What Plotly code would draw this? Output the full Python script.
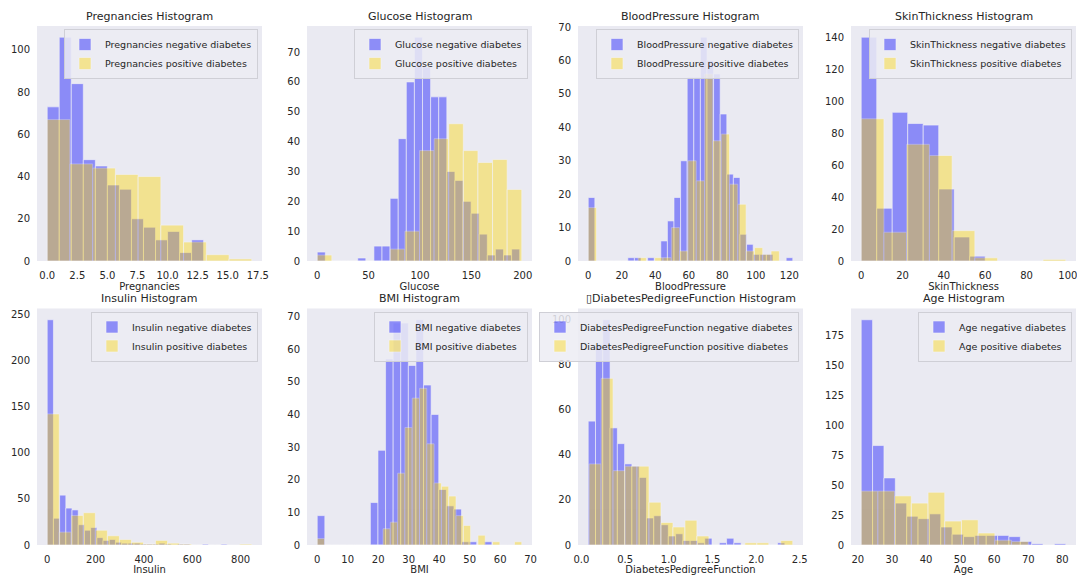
import numpy as np
import plotly.graph_objects as go

features = ["Pregnancies", "Glucose", "BloodPressure", "SkinThickness",
            "Insulin", "BMI", "DiabetesPedigreeFunction", "Age"]
titles = ["Pregnancies Histogram", "Glucose Histogram", "BloodPressure Histogram",
          "SkinThickness Histogram", "Insulin Histogram", "BMI Histogram",
          "\u25afDiabetesPedigreeFunction Histogram", "Age Histogram"]

# (min, max) range of each class and the bar counts
preg_neg_range, preg_pos_range = (0, 13), (0, 17)
preg_neg = [73, 106, 84, 48, 45, 36, 34, 20, 16, 10, 14, 4, 10]
preg_pos = [67, 46, 44, 41, 40, 17, 9, 3, 1]

gluc_neg_range, gluc_pos_range = (0, 197), (0, 199)
gluc_neg = [3, 0, 0, 0, 0, 1, 0, 5, 5, 21, 41, 60, 75, 65, 55, 55, 30, 27, 20, 16, 9, 2, 4, 2, 4]
gluc_pos = [2, 0, 0, 0, 0, 4, 10, 37, 41, 46, 37, 33, 34, 24]

bp_neg_range, bp_pos_range = (0, 122), (0, 114)
bp_neg = [19, 0, 0, 0, 0, 0, 1, 1, 0, 1, 0, 6, 12, 19, 30, 55, 55, 67, 60, 56, 44,
          26, 25, 8, 5, 2, 2, 2, 0, 0, 1]
bp_pos = [16, 0, 0, 0, 0, 0, 1, 0, 1, 1, 10, 3, 30, 24, 56, 36, 38, 23, 17, 3, 4, 2, 3]

skin_neg_range, skin_pos_range = (0, 60), (0, 99)
skin_neg = [140, 33, 93, 86, 85, 45, 15, 3]
skin_pos = [89, 18, 73, 66, 19, 2, 0, 0, 1]

ins_neg_range, ins_pos_range = (0, 744), (0, 846)
ins_neg = [244, 29, 54, 40, 38, 22, 16, 19, 8, 5, 6, 3, 2, 2, 2, 1, 1, 1, 2, 1,
           0, 1, 1, 0, 0, 1, 0, 0, 1]
ins_pos = [142, 14, 32, 35, 16, 10, 6, 3, 1, 5, 2, 1, 0, 0, 0, 0, 1]

bmi_neg_range, bmi_pos_range = (0, 57.3), (0, 67.1)
bmi_neg = [9, 0, 0, 0, 0, 0, 0, 13, 29, 57, 68, 68, 55, 69, 49, 40, 17, 12, 11, 1, 1, 0, 1]
bmi_pos = [2, 0, 0, 0, 0, 0, 0, 0, 0, 5, 7, 22, 36, 45, 48, 31, 19, 18, 15, 9, 6, 0,
           3, 0, 1, 0, 0, 1]

dpf_neg_range, dpf_pos_range = (0.078, 2.329), (0.088, 2.42)
dpf_neg = [55, 89, 100, 52, 45, 36, 35, 30, 12, 13, 9, 4, 5, 2, 2, 1, 3, 0, 1, 3, 1,
           0, 0, 0, 0, 0, 1]
dpf_pos = [36, 74, 33, 35, 35, 19, 10, 8, 11, 4, 0, 0, 0, 1, 1, 0, 2]

age_neg_range, age_pos_range = (21, 81), (21, 70)
age_neg = [188, 83, 56, 35, 24, 22, 26, 15, 9, 7, 8, 8, 8, 7, 3, 1, 0, 1]
age_pos = [45, 45, 41, 35, 44, 20, 21, 10, 4, 3]

neg_ranges = [preg_neg_range, gluc_neg_range, bp_neg_range, skin_neg_range,
              ins_neg_range, bmi_neg_range, dpf_neg_range, age_neg_range]
pos_ranges = [preg_pos_range, gluc_pos_range, bp_pos_range, skin_pos_range,
              ins_pos_range, bmi_pos_range, dpf_pos_range, age_pos_range]
neg_counts = [preg_neg, gluc_neg, bp_neg, skin_neg, ins_neg, bmi_neg, dpf_neg, age_neg]
pos_counts = [preg_pos, gluc_pos, bp_pos, skin_pos, ins_pos, bmi_pos, dpf_pos, age_pos]

x_ticks = [
    [0, 2.5, 5, 7.5, 10, 12.5, 15, 17.5],
    [0, 50, 100, 150, 200],
    [0, 20, 40, 60, 80, 100, 120],
    [0, 20, 40, 60, 80, 100],
    [0, 200, 400, 600, 800],
    [0, 10, 20, 30, 40, 50, 60, 70],
    [0, 0.5, 1.0, 1.5, 2.0, 2.5],
    [20, 30, 40, 50, 60, 70, 80],
]
x_tick_text = [
    ["0.0", "2.5", "5.0", "7.5", "10.0", "12.5", "15.0", "17.5"],
    None, None, None, None, None,
    ["0.0", "0.5", "1.0", "1.5", "2.0", "2.5"],
    None,
]
y_ticks = [
    [0, 20, 40, 60, 80, 100],
    [0, 10, 20, 30, 40, 50, 60, 70],
    [0, 10, 20, 30, 40, 50, 60, 70],
    [0, 20, 40, 60, 80, 100, 120, 140],
    [0, 50, 100, 150, 200, 250],
    [0, 10, 20, 30, 40, 50, 60, 70],
    [0, 20, 40, 60, 80, 100],
    [0, 25, 50, 75, 100, 125, 150, 175],
]

# ---- layout geometry (pixels) ----
W, H = 1077, 575
col_left = [37, 307, 578, 851]
plot_w = 225
row_top = [26, 308.5]
row_bottom = [261, 545]

NEG_COLOR = "rgb(0,0,255)"
POS_COLOR = "rgb(255,215,0)"
TXT = "#262626"
FONT = "DejaVu Sans"

fig = go.Figure()
layout = dict(
    width=W, height=H,
    margin=dict(l=0, r=0, t=0, b=0),
    paper_bgcolor="white",
    plot_bgcolor="#EAEAF2",
    barmode="overlay",
    font=dict(family=FONT, color=TXT),
    annotations=[],
)

for i, feat in enumerate(features):
    r, c = divmod(i, 4)
    sfx = "" if i == 0 else str(i + 1)
    xa, ya = "x" + sfx, "y" + sfx
    leg = "legend" + sfx

    for rng, counts, color, label in (
        (neg_ranges[i], neg_counts[i], NEG_COLOR, f"{feat} negative diabetes"),
        (pos_ranges[i], pos_counts[i], POS_COLOR, f"{feat} positive diabetes"),
    ):
        edges = np.linspace(rng[0], rng[1], len(counts) + 1)
        centers = (edges[:-1] + edges[1:]) / 2
        widths = np.diff(edges)
        fig.add_trace(go.Bar(
            x=centers, y=counts, width=widths,
            marker=dict(color=color, line=dict(color="white", width=0.6)),
            opacity=0.4, name=label, xaxis=xa, yaxis=ya, legend=leg,
        ))

    lo = min(neg_ranges[i][0], pos_ranges[i][0])
    hi = max(neg_ranges[i][1], pos_ranges[i][1])
    pad = 0.05 * (hi - lo)
    ymax = 1.05 * max(max(neg_counts[i]), max(pos_counts[i]))

    left = col_left[c]
    top, bottom = row_top[r], row_bottom[r]
    xdom = [left / W, (left + plot_w) / W]
    ydom = [(H - bottom) / H, (H - top) / H]

    xaxis = dict(
        domain=xdom, anchor=ya, range=[lo - pad, hi + pad], automargin=False,
        tickvals=x_ticks[i], showgrid=False, zeroline=False, showline=False,
        ticks="outside", ticklen=5, tickcolor="rgba(0,0,0,0)",
        ticklabeloverflow="allow",
        tickfont=dict(size=10, color=TXT, family=FONT),
        title=dict(text=feat, font=dict(size=10, color=TXT, family=FONT), standoff=2),
    )
    if x_tick_text[i] is not None:
        xaxis["ticktext"] = x_tick_text[i]
    layout["xaxis" + sfx] = xaxis
    layout["yaxis" + sfx] = dict(
        domain=ydom, anchor=xa, range=[0, ymax], automargin=False,
        tickvals=y_ticks[i], showgrid=False, zeroline=False, showline=False,
        ticks="outside", ticklen=4, tickcolor="rgba(0,0,0,0)",
        tickfont=dict(size=10, color=TXT, family=FONT),
    )
    layout[leg] = dict(
        x=(left + plot_w - 4) / W, y=(H - top - 3) / H,
        xanchor="right", yanchor="top",
        bgcolor="rgba(236,236,243,0.85)", bordercolor="#cfcfd6", borderwidth=1,
        font=dict(size=9.5, color=TXT, family=FONT),
        tracegroupgap=0, itemwidth=30,
    )
    layout["annotations"].append(dict(
        text=titles[i], xref="paper", yref="paper",
        x=(left + plot_w / 2) / W, y=(H - top + 10) / H,
        xanchor="center", yanchor="middle", showarrow=False,
        font=dict(size=11, color=TXT, family=FONT),
    ))

fig.update_layout(**layout)
fig.write_html(
    "out.html",
    config={"displayModeBar": False},
    post_script="document.body.style.margin='0px';document.body.style.overflow='hidden';",
)
